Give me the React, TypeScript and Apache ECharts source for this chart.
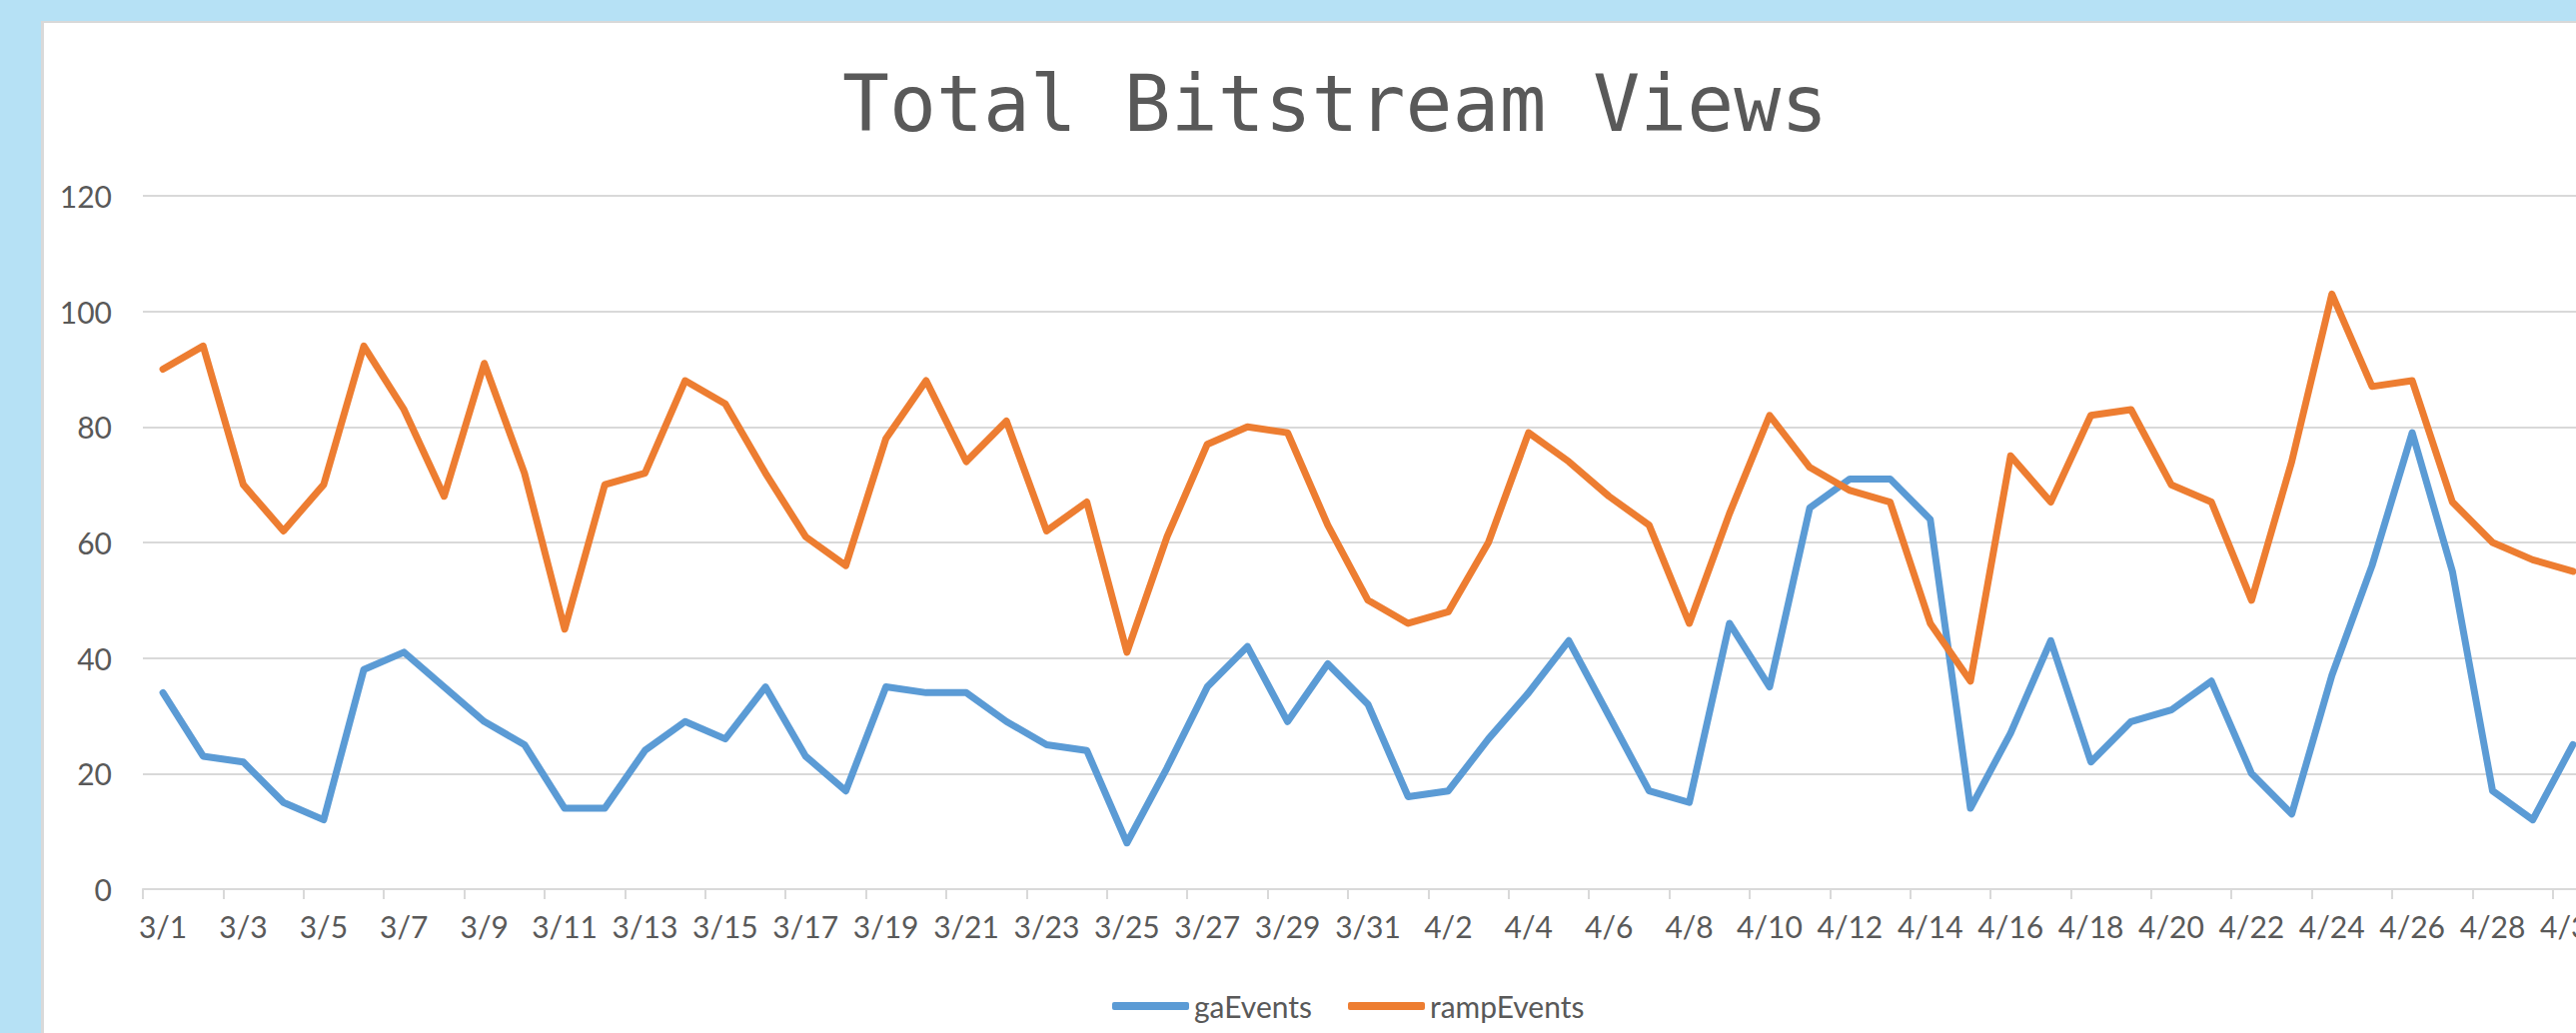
import React, { useEffect, useRef } from "react";
import * as echarts from "echarts";

const titleText = "Total Bitstream Views";

const categories = [
  "3/1", "3/2", "3/3", "3/4", "3/5", "3/6", "3/7", "3/8", "3/9", "3/10",
  "3/11", "3/12", "3/13", "3/14", "3/15", "3/16", "3/17", "3/18", "3/19", "3/20",
  "3/21", "3/22", "3/23", "3/24", "3/25", "3/26", "3/27", "3/28", "3/29", "3/30",
  "3/31", "4/1", "4/2", "4/3", "4/4", "4/5", "4/6", "4/7", "4/8", "4/9",
  "4/10", "4/11", "4/12", "4/13", "4/14", "4/15", "4/16", "4/17", "4/18", "4/19",
  "4/20", "4/21", "4/22", "4/23", "4/24", "4/25", "4/26", "4/27", "4/28", "4/29",
  "4/30",
];

const gaEvents = [
  34, 23, 22, 15, 12, 38, 41, 35, 29, 25,
  14, 14, 24, 29, 26, 35, 23, 17, 35, 34,
  34, 29, 25, 24, 8, 21, 35, 42, 29, 39,
  32, 16, 17, 26, 34, 43, 30, 17, 15, 46,
  35, 66, 71, 71, 64, 14, 27, 43, 22, 29,
  31, 36, 20, 13, 37, 56, 79, 55, 17, 12,
  25,
];

const rampEvents = [
  90, 94, 70, 62, 70, 94, 83, 68, 91, 72,
  45, 70, 72, 88, 84, 72, 61, 56, 78, 88,
  74, 81, 62, 67, 41, 61, 77, 80, 79, 63,
  50, 46, 48, 60, 79, 74, 68, 63, 46, 65,
  82, 73, 69, 67, 46, 36, 75, 67, 82, 83,
  70, 67, 50, 74, 103, 87, 88, 67, 60, 57,
  55,
];

const seriesNames = ["gaEvents", "rampEvents"];
const seriesColors = ["#5b9bd5", "#ed7d31"];

const yMin = 0;
const yMax = 120;
const yInterval = 20;

const TEXT = "#595959";
const GRID = "#d9d9d9";
const LABEL_FONT = "Lato, 'Open Sans', sans-serif";
const LINE_W = 7;

export default function App() {
  const ref = useRef<HTMLDivElement>(null);

  useEffect(() => {
    document.body.style.margin = "0";
    document.body.style.overflow = "hidden";
    const chart = echarts.init(ref.current!, null, { renderer: "svg" });
    chart.setOption({
      animation: false,
      title: {
        text: titleText,
        left: 838,
        top: 60,
        textStyle: {
          fontFamily: "'DejaVu Sans Mono', monospace",
          fontSize: 78,
          fontWeight: "normal",
          color: TEXT,
        },
      },
      legend: {
        data: seriesNames,
        left: 1108,
        top: 987,
        itemWidth: 77,
        itemHeight: 8,
        itemGap: 36,
        icon: "roundRect",
        textStyle: { fontFamily: LABEL_FONT, fontSize: 30, color: TEXT },
      },
      grid: { left: 143, top: 196, width: 2452, height: 694 },
      xAxis: {
        type: "category",
        data: categories,
        boundaryGap: true,
        axisLine: { show: true, lineStyle: { color: GRID, width: 2 } },
        axisTick: {
          show: true,
          interval: 1,
          length: 10,
          lineStyle: { color: GRID, width: 2 },
        },
        axisLabel: {
          interval: 1,
          margin: 22,
          fontFamily: LABEL_FONT,
          fontSize: 30,
          color: TEXT,
        },
      },
      yAxis: {
        type: "value",
        min: yMin,
        max: yMax,
        interval: yInterval,
        axisLine: { show: false },
        axisTick: { show: false },
        axisLabel: {
          margin: 31,
          fontFamily: LABEL_FONT,
          fontSize: 30,
          color: TEXT,
        },
        splitLine: { lineStyle: { color: GRID, width: 2 } },
      },
      series: [
        {
          name: seriesNames[0],
          type: "line",
          data: gaEvents,
          symbol: "none",
          color: seriesColors[0],
          lineStyle: { width: LINE_W, color: seriesColors[0], cap: "round", join: "round" },
        },
        {
          name: seriesNames[1],
          type: "line",
          data: rampEvents,
          symbol: "none",
          color: seriesColors[1],
          lineStyle: { width: LINE_W, color: seriesColors[1], cap: "round", join: "round" },
        },
      ],
    });
    return () => chart.dispose();
  }, []);

  return (
    <div
      style={{
        position: "fixed",
        left: 0,
        top: 0,
        width: 2578,
        height: 1034,
        overflow: "hidden",
        background: "#b6e1f5",
      }}
    >
      <div
        style={{
          position: "absolute",
          left: 41,
          top: 21,
          width: 2700,
          height: 1100,
          background: "#ffffff",
          borderLeft: "3px solid #d9d9d9",
          borderTop: "2px solid #d9d9d9",
        }}
      />
      <div
        ref={ref}
        style={{ position: "absolute", left: 0, top: 0, width: 2640, height: 1034 }}
      />
    </div>
  );
}
